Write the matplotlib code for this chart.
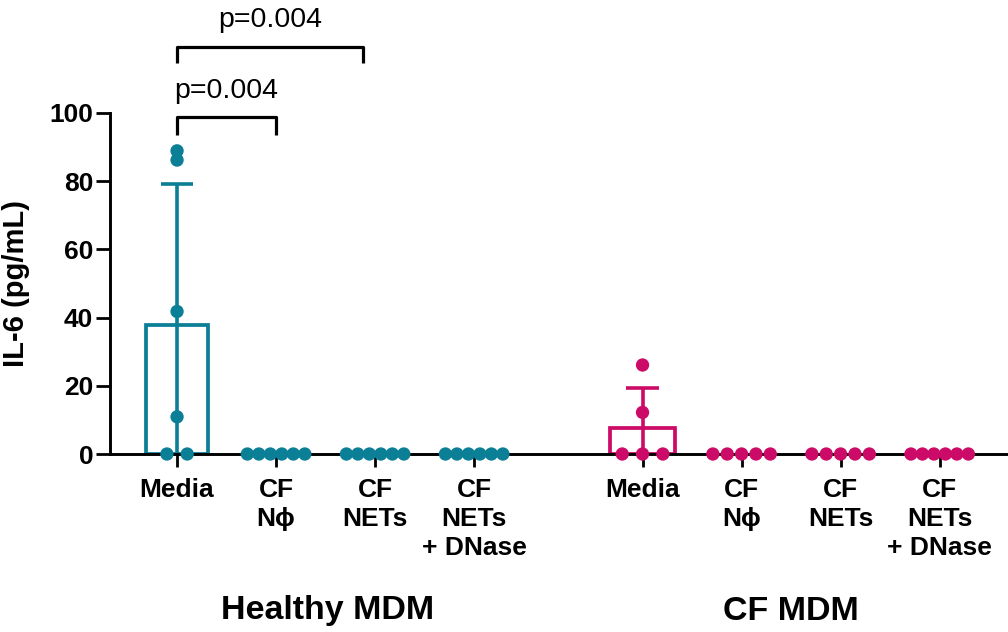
import numpy as np
import matplotlib
matplotlib.use("Agg")
import matplotlib.pyplot as plt

plt.rcParams['font.family'] = ['Liberation Sans', 'DejaVu Sans']

# Data
conditions = ["Media", "CF\nN\u03d5", "CF\nNETs", "CF\nNETs\n+ DNase"]
groups = ["Healthy MDM", "CF MDM"]
healthy_values = [
    [88.9, 86.2, 41.8, 10.9, 0.0, 0.0],
    [0.0, 0.0, 0.0, 0.0, 0.0, 0.0],
    [0.0, 0.0, 0.0, 0.0, 0.0, 0.0],
    [0.0, 0.0, 0.0, 0.0, 0.0, 0.0],
]
cf_values = [
    [26.1, 12.2, 0.0, 0.0, 0.0],
    [0.0, 0.0, 0.0, 0.0, 0.0],
    [0.0, 0.0, 0.0, 0.0, 0.0],
    [0.0, 0.0, 0.0, 0.0, 0.0, 0.0],
]
p_labels = ["p=0.004", "p=0.004"]
y_ticks = [0, 20, 40, 60, 80, 100]

teal = "#0b7f96"
magenta = "#cc0b68"

fig = plt.figure(figsize=(10.08, 6.32), dpi=100)
ax = fig.add_axes([110 / 1008, (632 - 454) / 632, (1008 - 110) / 1008, (454 - 113) / 632])

positions_h = np.arange(4, dtype=float)
positions_c = np.arange(4, dtype=float) + 4.7


def offsets(vals):
    vals = np.asarray(vals)
    xo = np.zeros(len(vals))
    zeros = np.where(vals == 0)[0]
    nz = len(zeros)
    if nz == len(vals):
        step = 0.58 / (nz - 1)
    else:
        step = 0.205
    xo[zeros] = (np.arange(nz) - (nz - 1) / 2) * step
    return xo


def draw_group(positions, data, color, width):
    for x, vals in zip(positions, data):
        vals = np.asarray(vals)
        mean = vals.mean()
        sd = vals.std(ddof=1)
        if mean > 0:
            ax.bar(x, mean, width=width, facecolor="none", edgecolor=color,
                   linewidth=2.7, zorder=2)
            ax.vlines(x, 0, mean + sd, color=color, linewidth=2.6, zorder=2)
            ax.hlines(mean + sd, x - 0.165, x + 0.165, color=color,
                      linewidth=2.6, zorder=2)
        ax.scatter(x + offsets(vals), vals, s=92, color=color,
                   edgecolor="none", zorder=4, clip_on=False)


draw_group(positions_h, healthy_values, teal, 0.63)
draw_group(positions_c, cf_values, magenta, 0.65)

ax.set_xlim(-0.677, 8.39)
ax.set_ylim(0, 100)
ax.set_yticks(y_ticks)
ax.set_xticks(np.concatenate([positions_h, positions_c]))
ax.set_xticklabels(conditions + conditions, fontsize=19, fontweight="bold",
                   linespacing=1.27)
for lab in ax.get_yticklabels():
    lab.set_fontweight("bold")
ax.tick_params(axis="y", labelsize=19, length=10, width=2.0, pad=2)
ax.tick_params(axis="x", length=9, width=2.0, pad=8)

for side in ["top", "right"]:
    ax.spines[side].set_visible(False)
for side in ["left", "bottom"]:
    ax.spines[side].set_linewidth(2.1)
    ax.spines[side].set_zorder(3)

ax.set_ylabel("IL-6 (pg/mL)", fontsize=21, fontweight="bold")
ax.yaxis.set_label_coords(-0.089, 0.5)

# Significance brackets
def bracket(x0, x1, y, drop, text, ty):
    ax.plot([x0, x0, x1, x1], [y - drop, y, y, y - drop], color="black",
            linewidth=2.3, clip_on=False, solid_capstyle="butt")
    ax.text((x0 + x1) / 2, ty, text, ha="center", va="center", fontsize=20.5,
            clip_on=False)

bracket(positions_h[0], positions_h[1], 98.8, 5.3, p_labels[0], 106.5)
bracket(positions_h[0], 1.88, 119.4, 4.8, p_labels[1], 127.3)

# Group labels
fig.text(328 / 1008, 1 - 611 / 632, groups[0], ha="center", va="center",
         fontsize=24.5, fontweight="bold")
fig.text(791 / 1008, 1 - 611 / 632, groups[1], ha="center", va="center",
         fontsize=24.5, fontweight="bold")

fig.savefig("out.png", dpi=100)
